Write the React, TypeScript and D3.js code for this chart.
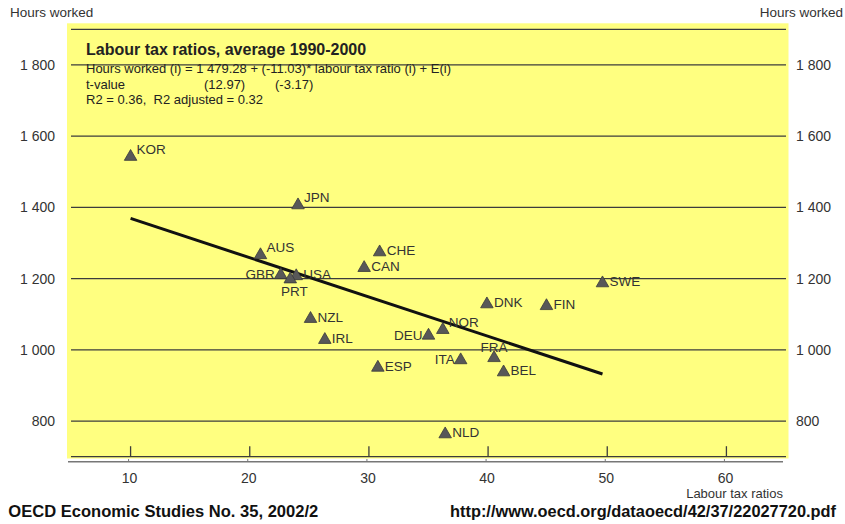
import React from "react";
import * as d3 from "d3";

// ---- Data ----
const countries = ["KOR", "JPN", "AUS", "GBR", "USA", "PRT", "CHE", "CAN", "NZL", "IRL", "DEU", "NOR", "ESP", "ITA", "FRA", "BEL", "DNK", "FIN", "SWE", "NLD"];
const labourTaxRatio = [10.0, 24.05, 20.9, 22.6, 23.9, 23.4, 30.9, 29.6, 25.1, 26.3, 35.0, 36.2, 30.75, 37.7, 40.5, 41.3, 39.9, 44.9, 49.6, 36.4];
const hoursWorked = [1545, 1409, 1269, 1213, 1210, 1201, 1277, 1233, 1090, 1031, 1043, 1059, 953, 974, 980, 940, 1131, 1126, 1190, 766];
const regIntercept = 1479.28;
const regSlope = -11.03;
const yTicks = [800, 1000, 1200, 1400, 1600, 1800];
const yGrid = [700, 800, 1000, 1200, 1400, 1600, 1800, 1900];
const xTicks = [10, 20, 30, 40, 50, 60];
const titleText = "Labour tax ratios, average 1990-2000";
const eqText = "Hours worked (i) = 1 479.28 + (-11.03)* labour tax ratio (i) + E(i)";
const tvalLabel = "t-value";
const tvalA = "(12.97)";
const tvalB = "(-3.17)";
const r2Text = "R2 = 0.36,  R2 adjusted = 0.32";
const yAxisTitle = "Hours worked";
const xAxisTitle = "Labour tax ratios";
const sourceText = "OECD Economic Studies No. 35, 2002/2";
const urlText = "http://www.oecd.org/dataoecd/42/37/22027720.pdf";

// label placement (layout, not data)
const labelPlacement: Record<string, string> = {
  KOR: "upright", JPN: "upright", AUS: "upright", NOR: "upright",
  GBR: "left", DEU: "left", ITA: "left",
  PRT: "below", FRA: "above",
};

const FONT = "'Liberation Sans', Arial, Helvetica, sans-serif";

export default function App() {
  const W = 845, H = 524;
  const x = d3.scaleLinear().domain([5, 65]).range([71, 786]);
  const y = d3.scaleLinear().domain([700, 1900]).range([456.7, 29.3]);
  const fmt = (v: number) => d3.format(",")(v).replace(",", " ");

  const xs = labourTaxRatio;
  const xMin = d3.min(xs) as number;
  const xMax = d3.max(xs) as number;
  const line = d3.line<number>().x((v) => x(v)).y((v) => y(regIntercept + regSlope * v));

  const tri = d3.symbol().type(d3.symbolTriangle).size(68)();

  const labelColor = "#333";

  return (
    <div style={{ position: "absolute", left: 0, top: 0 }}>
      <svg width={W} height={H} style={{ display: "block", fontFamily: FONT }}>
        <rect x={0} y={0} width={W} height={H} fill="#fff" />
        {/* panel */}
        <rect x={67} y={23.3} width={721.5} height={435.2} fill="#ffff80" />
        {/* grid lines */}
        {yGrid.map((v) => (
          <line key={v} x1={x(5)} x2={x(65)} y1={y(v)} y2={y(v)} stroke="#3c3c3c" strokeWidth={1.3} />
        ))}
        {/* x ticks inside panel */}
        {xTicks.map((t) => (
          <line key={t} x1={x(t)} x2={x(t)} y1={y(700) - 10.5} y2={y(700)} stroke="#3c3c3c" strokeWidth={1.3} />
        ))}
        {/* outer axis line */}
        <line x1={68} x2={783} y1={461.7} y2={461.7} stroke="#777" strokeWidth={1.6} />
        {xTicks.map((t) => (
          <line key={"o" + t} x1={x(t) - 2} x2={x(t) - 2} y1={459} y2={461.7} stroke="#777" strokeWidth={1} />
        ))}
        {/* y labels */}
        {yTicks.map((v) => (
          <g key={v}>
            <text x={55} y={y(v) + 5} textAnchor="end" fontSize={14} fill="#333">{fmt(v)}</text>
            <text x={796} y={y(v) + 5} textAnchor="start" fontSize={14} fill="#333">{fmt(v)}</text>
          </g>
        ))}
        {/* x labels */}
        {xTicks.map((t) => (
          <text key={t} x={x(t) - 1} y={483.3} textAnchor="middle" fontSize={14} fill="#333">{t}</text>
        ))}
        <text x={783} y={498} textAnchor="end" fontSize={13} fill="#333">{xAxisTitle}</text>
        <text x={10} y={16.7} fontSize={13.5} fill="#333">{yAxisTitle}</text>
        <text x={843} y={16.7} textAnchor="end" fontSize={13.5} fill="#333">{yAxisTitle}</text>

        {/* annotation */}
        <text x={86} y={55} fontSize={16} fontWeight="bold" fill="#222">{titleText}</text>
        <text x={86} y={73.3} fontSize={13} fill="#222">{eqText}</text>
        <text x={86} y={88.5} fontSize={13} fill="#222">{tvalLabel}</text>
        <text x={204} y={88.5} fontSize={13} fill="#222">{tvalA}</text>
        <text x={275} y={88.5} fontSize={13} fill="#222">{tvalB}</text>
        <text x={86} y={104.3} fontSize={13} fill="#222" style={{ whiteSpace: "pre" }}>{r2Text}</text>

        {/* regression line */}
        <path d={line([xMin, xMax]) || ""} stroke="#111" strokeWidth={3} fill="none" />

        {/* points */}
        {countries.map((c, i) => {
          const cx = x(labourTaxRatio[i]);
          const cy = y(hoursWorked[i]);
          const p = labelPlacement[c] || "right";
          let lx = cx + 7, ly = cy + 4, anchor: "start" | "end" | "middle" = "start";
          if (p === "upright") { lx = cx + 6; ly = cy - 2; }
          else if (p === "left") { lx = cx - 6; ly = cy + 5; anchor = "end"; }
          else if (p === "below") { lx = cx + 4; ly = cy + 18; anchor = "middle"; }
          else if (p === "above") { lx = cx; ly = cy - 4.5; anchor = "middle"; }
          return (
            <g key={c}>
              <path d={tri || ""} transform={`translate(${cx},${cy + 1})`} fill="#585858" stroke="#3a3a3a" strokeWidth={0.8} />
              <text x={lx} y={ly} textAnchor={anchor} fontSize={13.5} fill={labelColor}>{c}</text>
            </g>
          );
        })}

        {/* footer */}
        <text x={8.3} y={516.7} fontSize={17} fontWeight="bold" fill="#111" textLength={310} lengthAdjust="spacingAndGlyphs">{sourceText}</text>
        <text x={450} y={516.7} fontSize={16.5} fontWeight="bold" fill="#111" textLength={386} lengthAdjust="spacingAndGlyphs">{urlText}</text>
      </svg>
    </div>
  );
}
